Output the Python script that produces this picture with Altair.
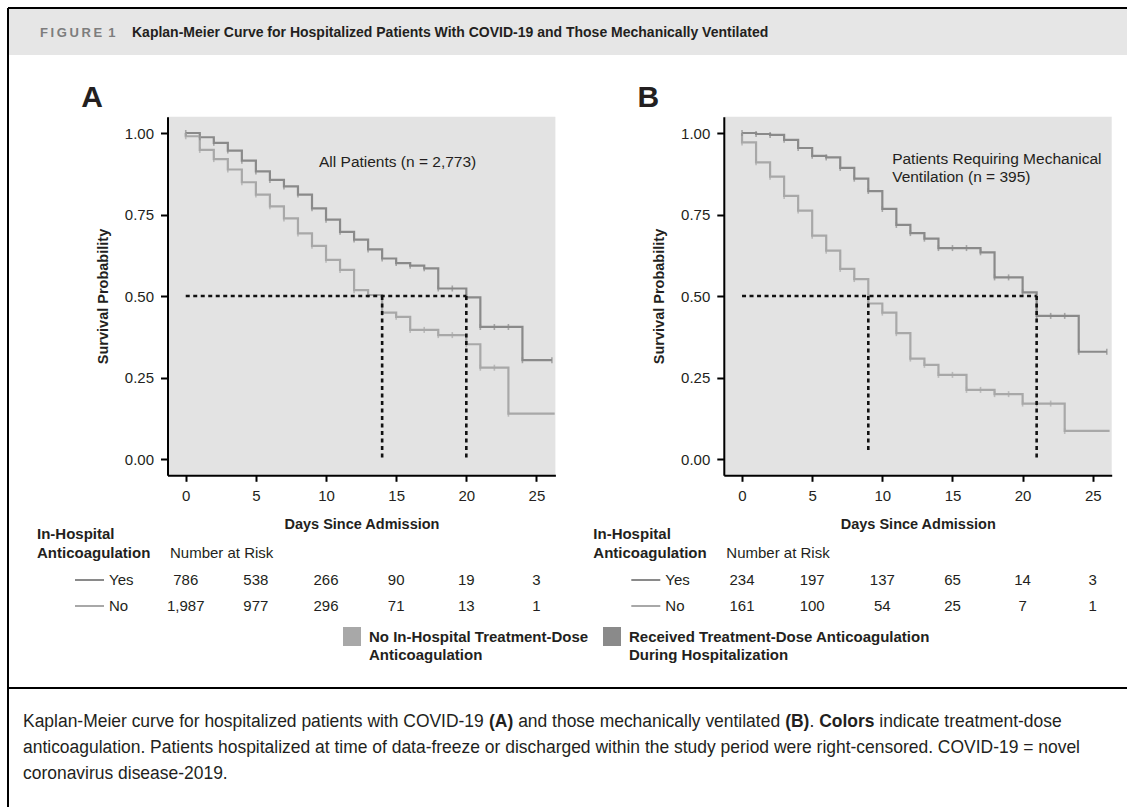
import altair as alt
import pandas as pd

# ---------------- data ----------------
A_yes_day = [0, 1, 2, 3, 4, 5, 6, 7, 8, 9, 10, 11, 12, 13, 14, 15, 16, 17, 18, 19, 20, 21, 22, 23, 24, 26.1]
A_yes_surv = [1.000, 0.987, 0.970, 0.946, 0.915, 0.882, 0.856, 0.836, 0.811, 0.769, 0.734, 0.697, 0.673,
              0.643, 0.615, 0.601, 0.593, 0.585, 0.523, 0.523, 0.496, 0.405, 0.405, 0.405, 0.303, 0.303]
A_no_day = [0, 0, 1, 2, 3, 4, 5, 6, 7, 8, 9, 10, 11, 12, 13, 14, 15, 16, 17, 18, 19, 20, 21, 22, 23, 26.3]
A_no_surv = [1.000, 0.990, 0.948, 0.920, 0.888, 0.849, 0.811, 0.775, 0.738, 0.692, 0.654, 0.611, 0.580,
             0.518, 0.503, 0.449, 0.436, 0.396, 0.396, 0.380, 0.380, 0.352, 0.280, 0.280, 0.139, 0.139]

B_yes_day = [0, 1, 2, 3, 4, 5, 6, 7, 8, 9, 10, 11, 12, 13, 14, 15, 16, 17, 18, 19, 20, 21, 22, 23, 24, 26.0]
B_yes_surv = [1.000, 0.997, 0.994, 0.979, 0.954, 0.930, 0.925, 0.893, 0.860, 0.822, 0.767, 0.718, 0.693,
              0.676, 0.647, 0.647, 0.647, 0.634, 0.557, 0.557, 0.511, 0.439, 0.439, 0.439, 0.329, 0.329]
B_no_day = [0, 0, 1, 2, 3, 4, 5, 6, 7, 8, 9, 10, 11, 12, 13, 14, 15, 16, 17, 18, 19, 20, 21, 22, 23, 26.2]
B_no_surv = [1.000, 0.971, 0.910, 0.866, 0.807, 0.762, 0.685, 0.639, 0.583, 0.552, 0.477, 0.449, 0.386,
             0.308, 0.289, 0.258, 0.258, 0.212, 0.212, 0.199, 0.199, 0.170, 0.170, 0.170, 0.086, 0.086]

A_median_days = [14, 20]
A_median_ends = [0.0, 0.0]
B_median_days = [9, 21]
B_median_ends = [0.02, 0.0]

risk_days = [0, 5, 10, 15, 20, 25]
A_risk_yes = [786, 538, 266, 90, 19, 3]
A_risk_no = [1987, 977, 296, 71, 13, 1]
B_risk_yes = [234, 197, 137, 65, 14, 3]
B_risk_no = [161, 100, 54, 25, 7, 1]

x_ticks = [0, 5, 10, 15, 20, 25]
y_ticks = [0.0, 0.25, 0.5, 0.75, 1.0]

# ---------------- styling / layout ----------------
FONT = "Liberation Sans"
W, H = 1127, 807
Y_DOM = [-0.05, 1.05]
Y_RNG = [475.3, 116.7]
YES_C = "#8a8a8a"
NO_C = "#a8a8a8"
BG = "#e3e3e3"
INK = "#231f20"
OFF_B = 742.0 - 185.7   # panel B is panel A shifted right

REG = dict(zip("abcdefghijklmnopqrstuvwxyz",
               [556, 556, 500, 556, 556, 278, 556, 556, 222, 222, 500, 222, 833, 556, 556, 556, 556, 333, 500,
                278, 556, 500, 722, 500, 500, 500]))
REG.update(dict(zip("ABCDEFGHIJKLMNOPQRSTUVWXYZ",
                    [667, 667, 722, 722, 667, 611, 778, 722, 278, 500, 667, 556, 833, 722, 778, 667, 778, 722,
                     667, 611, 722, 667, 944, 667, 667, 611])))
BLD = dict(zip("abcdefghijklmnopqrstuvwxyz",
               [556, 611, 556, 611, 556, 333, 611, 611, 278, 278, 556, 278, 889, 611, 611, 611, 611, 389, 556,
                333, 611, 556, 778, 556, 556, 500]))
BLD.update(dict(zip("ABCDEFGHIJKLMNOPQRSTUVWXYZ",
                    [722, 722, 722, 722, 667, 611, 778, 722, 278, 556, 722, 611, 833, 722, 778, 667, 778, 722,
                     667, 611, 722, 667, 944, 667, 667, 611])))
for tbl in (REG, BLD):
    tbl.update({" ": 278, "-": 333, ".": 278, ",": 278, "(": 333, ")": 333, "=": 584})
    for d in "0123456789":
        tbl[d] = 556


def em(s, bold=False):
    t = BLD if bold else REG
    return sum(t.get(c, 556) for c in s) / 1000.0


def panel(xdom, xrng, yes_d, yes_s, no_d, no_s, meds, med_ends, r_yes, r_no, note, note_x, note_y,
          ytitle_x):
    xs = alt.Scale(domain=xdom, range=xrng, nice=False, zero=False)
    ys = alt.Scale(domain=Y_DOM, range=Y_RNG, nice=False, zero=False)
    xaxis = alt.Axis(orient="bottom", offset=-(H - Y_RNG[0]), values=x_ticks, format="d", grid=False,
                     domainColor="black", domainWidth=2, tickColor="black", tickWidth=2, tickSize=6,
                     labelFont=FONT, labelFontSize=15, labelColor=INK, labelPadding=7, zindex=2,
                     title="Days Since Admission", titleFont=FONT, titleFontSize=14.5, titleFontWeight="bold",
                     titleColor=INK, titleX=(xrng[0] + xrng[1]) / 2, titleY=49, titleBaseline="middle",
                     titleAlign="center")
    yaxis = alt.Axis(orient="left", offset=-xrng[0], values=y_ticks, format=".2f", grid=False,
                     domainColor="black", domainWidth=2, tickColor="black", tickWidth=2, tickSize=7,
                     labelFont=FONT, labelFontSize=15, labelColor=INK, labelPadding=7, zindex=2,
                     title="Survival Probability", titleFont=FONT, titleFontSize=14.5, titleFontWeight="bold",
                     titleColor=INK, titleAngle=270, titleX=ytitle_x - xrng[0],
                     titleY=(Y_RNG[0] + Y_RNG[1]) / 2, titleBaseline="middle", titleAlign="center")

    bg = alt.Chart(pd.DataFrame({"x0": [xdom[0]], "x1": [xdom[1]], "y0": [Y_DOM[0]], "y1": [Y_DOM[1]]})) \
        .mark_rect(color=BG).encode(
            x=alt.X("x0:Q", scale=xs, axis=xaxis), x2="x1",
            y=alt.Y("y0:Q", scale=ys, axis=yaxis), y2="y1")

    cdf = pd.DataFrame({
        "day": yes_d + no_d, "surv": yes_s + no_s,
        "grp": ["Yes"] * len(yes_d) + ["No"] * len(no_d),
        "ord": list(range(len(yes_d))) + list(range(len(no_d))),
    })
    col = alt.Color("grp:N", scale=alt.Scale(domain=["Yes", "No"], range=[YES_C, NO_C]), legend=None)
    curves = alt.Chart(cdf).mark_line(interpolate="step-after", strokeWidth=2.2).encode(
        x=alt.X("day:Q", scale=xs, axis=None), y=alt.Y("surv:Q", scale=ys, axis=None),
        color=col, detail="grp:N", order="ord:Q")

    # censor marks: every step point except the vertical start / free end of the "No" curve
    mdf = pd.DataFrame({
        "day": yes_d + no_d[1:-1], "surv": yes_s + no_s[1:-1],
        "grp": ["Yes"] * len(yes_d) + ["No"] * (len(no_d) - 2),
    })
    marks = alt.Chart(mdf).mark_tick(orient="vertical", size=6, thickness=1.6).encode(
        x=alt.X("day:Q", scale=xs, axis=None), y=alt.Y("surv:Q", scale=ys, axis=None), color=col)

    ddf = pd.DataFrame({"x": [0, meds[0], meds[1]], "x2": [meds[1], meds[0], meds[1]],
                        "y": [0.5, 0.5, 0.5], "y2": [0.5, med_ends[0], med_ends[1]]})
    dots = alt.Chart(ddf).mark_rule(color="#111111", strokeWidth=2.6, strokeDash=[4, 3.5]).encode(
        x=alt.X("x:Q", scale=xs, axis=None), x2="x2",
        y=alt.Y("y:Q", scale=ys, axis=None), y2="y2")

    ndf = pd.DataFrame({"x": [note_x], "y": [note_y], "t": [note]})
    notes = alt.Chart(ndf).mark_text(align="left", baseline="middle", font=FONT, fontSize=15.5,
                                     lineHeight=18, lineBreak="\n", color=INK).encode(
        x=alt.X("x:Q", scale=xs, axis=None), y=alt.Y("y:Q", scale=ys, axis=None), text="t:N")

    ry = alt.Chart(pd.DataFrame({"day": risk_days, "n": r_yes})).mark_text(
        align="center", baseline="middle", font=FONT, fontSize=15, color=INK).encode(
        x=alt.X("day:Q", scale=xs, axis=None), y=alt.value(580), text=alt.Text("n:Q", format=","))
    rn = alt.Chart(pd.DataFrame({"day": risk_days, "n": r_no})).mark_text(
        align="center", baseline="middle", font=FONT, fontSize=15, color=INK).encode(
        x=alt.X("day:Q", scale=xs, axis=None), y=alt.value(606), text=alt.Text("n:Q", format=","))

    return [bg, curves, marks, dots, notes, ry, rn]


A_XDOM = [-1.3, 26.35]
A_XRNG = [167.5, 555.4]
B_XRNG = [A_XRNG[0] + OFF_B, A_XRNG[1] + OFF_B]

panelA = panel(A_XDOM, A_XRNG, A_yes_day, A_yes_surv, A_no_day, A_no_surv,
               A_median_days, A_median_ends, A_risk_yes, A_risk_no,
               "All Patients (n = 2,773)", 9.5, 0.911, 103)
panelB = panel(A_XDOM, B_XRNG, B_yes_day, B_yes_surv, B_no_day, B_no_surv,
               B_median_days, B_median_ends, B_risk_yes, B_risk_no,
               "Patients Requiring Mechanical\nVentilation (n = 395)", 10.7, 0.920, 103 + OFF_B)


# ---------------- page furniture in pixel space ----------------
def px_text(rows, **kw):
    df = pd.DataFrame(rows, columns=["x", "y", "t"])
    base = dict(font=FONT, baseline="middle", color=INK)
    base.update(kw)
    return alt.Chart(df).mark_text(**base).encode(
        x=alt.X("x:Q", scale=None, axis=None), y=alt.Y("y:Q", scale=None, axis=None), text="t:N")


def px_rule(rows, **kw):
    df = pd.DataFrame(rows, columns=["x", "x2", "y", "y2"])
    return alt.Chart(df).mark_rule(**kw).encode(
        x=alt.X("x:Q", scale=None, axis=None), x2="x2", y=alt.Y("y:Q", scale=None, axis=None), y2="y2")


def px_rect(rows, color):
    df = pd.DataFrame(rows, columns=["x", "x2", "y", "y2"])
    return alt.Chart(df).mark_rect(color=color).encode(
        x=alt.X("x:Q", scale=None, axis=None), x2="x2", y=alt.Y("y:Q", scale=None, axis=None), y2="y2")


header_band = px_rect([[9, W, 9, 55]], "#e6e6e6")
frame = px_rule([[8, W, 8, 8], [8, 8, 8, H], [8, W, 688, 688]], color="black", strokeWidth=2)

fig_lbl = px_text([[40, 33, "F\u2009I\u2009G\u2009U\u2009R\u2009E\u2009 1"]], align="left", fontSize=13,
                  fontWeight="bold", color="#7d7d7d")
fig_title = px_text([[132, 33, "Kaplan-Meier Curve for Hospitalized Patients With COVID-19 and Those "
                                "Mechanically Ventilated"]], align="left", fontSize=14, fontWeight="bold")
panel_lbls = px_text([[92, 98, "A"], [92 + OFF_B, 98, "B"]], align="center", fontSize=30, fontWeight="bold")

tbl_bold = px_text([[37, 534, "In-Hospital"], [37, 553, "Anticoagulation"],
                    [37 + OFF_B, 534, "In-Hospital"], [37 + OFF_B, 553, "Anticoagulation"]],
                   align="left", fontSize=15, fontWeight="bold")
tbl_reg = px_text([[170, 553, "Number at Risk"], [109, 580, "Yes"], [109, 606, "No"],
                   [170 + OFF_B, 553, "Number at Risk"], [109 + OFF_B, 580, "Yes"], [109 + OFF_B, 606, "No"]],
                  align="left", fontSize=15)
tbl_yes_lines = px_rule([[75, 104, 580, 580], [75 + OFF_B, 104 + OFF_B, 580, 580]], color=YES_C, strokeWidth=2)
tbl_no_lines = px_rule([[75, 104, 606, 606], [75 + OFF_B, 104 + OFF_B, 606, 606]], color=NO_C, strokeWidth=2)

leg_sw_no = px_rect([[343, 361, 627, 646]], NO_C)
leg_sw_yes = px_rect([[603, 621, 627, 646]], YES_C)
leg_txt = px_text([[369, 637, "No In-Hospital Treatment-Dose"], [369, 655, "Anticoagulation"],
                   [629, 637, "Received Treatment-Dose Anticoagulation"], [629, 655, "During Hospitalization"]],
                  align="left", fontSize=15, fontWeight="bold")

# caption with inline bold segments
cap_lines = [
    [("Kaplan-Meier curve for hospitalized patients with COVID-19 ", False), ("(A)", True),
     (" and those mechanically ventilated ", False), ("(B)", True), (". ", False), ("Colors", True),
     (" indicate treatment-dose", False)],
    [("anticoagulation. Patients hospitalized at time of data-freeze or discharged within the study period "
      "were right-censored. COVID-19 = novel", False)],
    [("coronavirus disease-2019.", False)],
]
cap_y = [722, 748, 774]
cap_size = round((1062 - 23) / sum(em(s, b) for s, b in cap_lines[0]), 2)
cap_reg, cap_bold = [], []
for line, yy in zip(cap_lines, cap_y):
    xx = 23.0
    for s, b in line:
        lead = len(s) - len(s.lstrip(" "))
        if s.strip():
            (cap_bold if b else cap_reg).append([xx + em(" " * lead, b) * cap_size, yy, s.strip()])
        xx += em(s, b) * cap_size
caption_r = px_text(cap_reg, align="left", fontSize=cap_size)
caption_b = px_text(cap_bold, align="left", fontSize=cap_size, fontWeight="bold")

layers = [header_band, frame, fig_lbl, fig_title, panel_lbls] + panelA + panelB + [
    tbl_bold, tbl_reg, tbl_yes_lines, tbl_no_lines, leg_sw_no, leg_sw_yes, leg_txt, caption_r, caption_b]

chart = alt.layer(*layers).resolve_scale(
    x="independent", y="independent"
).resolve_axis(
    x="independent", y="independent"
).properties(
    width=W, height=H, autosize=alt.AutoSizeParams(type="none"), padding=0, background="white"
).configure_view(strokeWidth=0)

chart.save("out.html", embed_options={"renderer": "svg", "actions": False})
